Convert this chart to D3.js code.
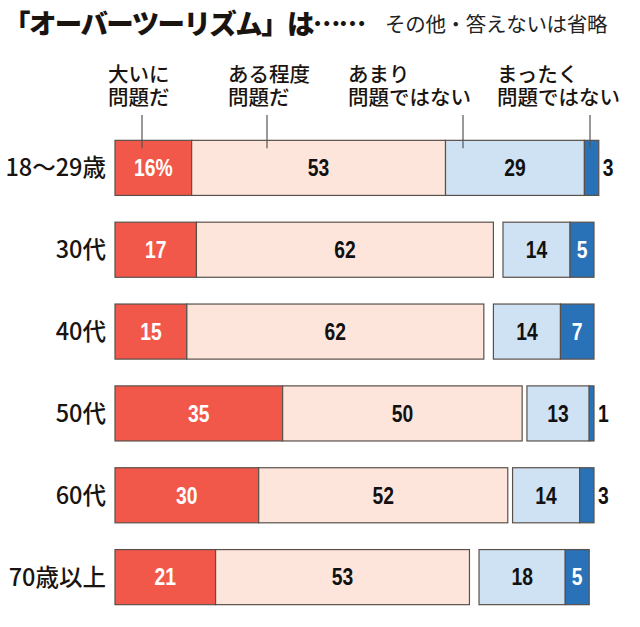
<!DOCTYPE html>
<html><head><meta charset="utf-8">
<script src="https://cdn.jsdelivr.net/npm/d3@7"></script>
<style>
html,body{margin:0;padding:0;background:#fff;}
svg{display:block;}
</style></head>
<body>
<svg id="chart" width="640" height="627"></svg>
<script>
// ---- data ----
const categories = ["18〜29歳", "30代", "40代", "50代", "60代", "70歳以上"];
const seriesNames = ["大いに\n問題だ", "ある程度\n問題だ", "あまり\n問題ではない", "まったく\n問題ではない"];
const veryProblem = [16, 17, 15, 35, 30, 21];
const somewhatProblem = [53, 62, 62, 50, 52, 53];
const notVery = [29, 14, 14, 13, 14, 18];
const notAtAll = [3, 5, 7, 1, 3, 5];
const otherOmitted = [0, 2, 2, 1, 1, 2];
const title = "「オーバーツーリズム」は……";
const note = "その他・答えないは省略";

// ---- layout ----
const colors = ["#f2584a", "#fde5dc", "#cfe2f3", "#2a72b8"];
const labelColors = ["#ffffff", "#111111", "#111111", "#ffffff"];
const svg = d3.select("#chart");
const x = d3.scaleLinear().domain([0, 100]).range([115, 594]);
const y = d3.scaleBand().domain(categories).range([127, 618]).paddingInner(0.327).paddingOuter(0.163);

// title
svg.append("text").attr("x", 3).attr("y", 34)
  .attr("font-family", "'Noto Sans CJK JP'").attr("font-weight", 900)
  .attr("font-size", 27.5).attr("letter-spacing", -1.6).attr("fill", "#1a1410").text(title);
svg.append("text").attr("x", 385).attr("y", 32)
  .attr("font-family", "'Noto Sans CJK JP'").attr("font-weight", 400)
  .attr("font-size", 20.5).attr("letter-spacing", -0.3).attr("fill", "#222").text(note);

// rows
const rows = categories.map((c, i) => {
  const vals = [veryProblem[i], somewhatProblem[i], notVery[i], notAtAll[i]];
  const segs = [];
  let acc = 0;
  vals.forEach((v, k) => {
    if (k === 2) acc += otherOmitted[i];
    segs.push({k, v, x0: acc, x1: acc + v, i});
    acc += v;
  });
  return {c, i, segs};
});

const g = svg.selectAll("g.row").data(rows).enter().append("g").attr("class", "row")
  .attr("transform", d => `translate(0,${y(d.c)})`);
const bh = y.bandwidth();

g.append("text").attr("x", 106).attr("y", bh / 2).attr("dy", "0.36em")
  .attr("text-anchor", "end").attr("font-family", "'Noto Sans CJK JP'").attr("font-weight", 500)
  .attr("font-size", 23.5).attr("fill", "#1a1410").text(d => d.c);

g.selectAll("rect").data(d => d.segs).enter().append("rect")
  .attr("x", s => x(s.x0)).attr("width", s => x(s.x1) - x(s.x0))
  .attr("y", 0).attr("height", bh)
  .attr("fill", s => colors[s.k]).attr("stroke", "#5a504a").attr("stroke-width", 1.2);

g.selectAll("text.val").data(d => d.segs).enter().append("text").attr("class", "val")
  .each(function(s) {
    const w = x(s.x1) - x(s.x0);
    const inside = w > 20;
    const tx = inside ? (x(s.x0) + x(s.x1)) / 2 : x(s.x1) + 4;
    d3.select(this)
      .attr("transform", `translate(${tx},${bh / 2}) scale(0.84,1)`)
      .attr("text-anchor", inside ? "middle" : "start")
      .attr("fill", inside ? labelColors[s.k] : "#111");
  })
  .attr("x", 0).attr("y", 0).attr("dy", "0.36em")
  .attr("font-family", "'Liberation Sans', Arial, sans-serif").attr("font-weight", 700)
  .attr("font-size", 23)
  .text(s => (s.i === 0 && s.k === 0) ? s.v + "%" : s.v);

// legend labels with leader lines
const legendX = [108, 228, 348, 497];
const leaderX = [142, 267, 463, 590];
seriesNames.forEach((name, k) => {
  name.split("\n").forEach((ln, j) => {
    svg.append("text").attr("x", legendX[k]).attr("y", 82 + j * 23)
      .attr("font-family", "'Noto Sans CJK JP'").attr("font-weight", 500)
      .attr("font-size", 20.5).attr("fill", "#1a1410").text(ln);
  });
  svg.append("line").attr("x1", leaderX[k]).attr("x2", leaderX[k])
    .attr("y1", 115).attr("y2", y(categories[0]) + 8)
    .attr("stroke", "#555").attr("stroke-width", 1.2);
});
</script>
</body></html>
